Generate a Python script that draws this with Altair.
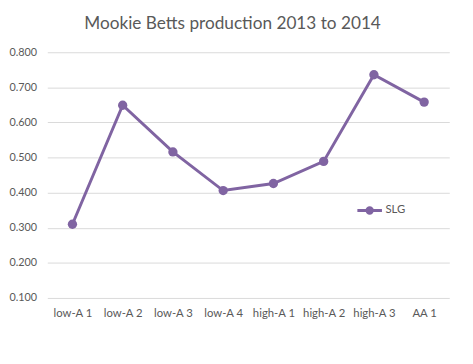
import altair as alt
import pandas as pd

categories = ["low-A 1", "low-A 2", "low-A 3", "low-A 4", "high-A 1", "high-A 2", "high-A 3", "AA 1"]
slg = [0.310, 0.649, 0.516, 0.406, 0.426, 0.489, 0.736, 0.658]
series_name = "SLG"
title_text = "Mookie Betts production 2013 to 2014"

df = pd.DataFrame({"level": categories, "value": slg, "series": [series_name] * len(categories)})

FONT = "Lato"
GRAY = "#595959"
PURPLE = "#8064A2"

sym = "M-1,0H1M-0.22,0A0.22,0.22 0 1,0 0.22,0A0.22,0.22 0 1,0 -0.22,0Z"

x = alt.X("level:N", sort=categories, title=None,
          scale=alt.Scale(paddingInner=0, paddingOuter=0.5),
          axis=alt.Axis(labelAngle=0, labelColor=GRAY, labelFont=FONT, labelFontSize=11.5,
                        domain=False, ticks=False, labelPadding=10, grid=False))
y = alt.Y("value:Q", title=None,
          scale=alt.Scale(domain=[0.1, 0.8], nice=False, zero=False),
          axis=alt.Axis(values=[0.1, 0.2, 0.3, 0.4, 0.5, 0.6, 0.7, 0.8], format=".3f",
                        labelColor=GRAY, labelFont=FONT, labelFontSize=11,
                        domain=False, ticks=False, labelPadding=11,
                        gridColor="#d9d9d9", gridWidth=1))
color = alt.Color("series:N", scale=alt.Scale(range=[PURPLE]),
                  legend=alt.Legend(title=None, orient="none", legendX=314, legendY=147,
                                    symbolType=sym, symbolSize=625, symbolStrokeWidth=3,
                                    symbolFillColor=PURPLE, symbolStrokeColor=PURPLE,
                                    labelFont=FONT, labelFontSize=11.5, labelColor=GRAY,
                                    labelOffset=2))

base = alt.Chart(df)
line = base.mark_line(strokeWidth=3).encode(x=x, y=y, color=color)
pts = base.mark_point(filled=True, size=90, opacity=1).encode(x=x, y=y, color=color)

chart = alt.layer(line, pts).properties(
    width=409, height=250,
    title=alt.TitleParams(title_text, font=FONT, fontSize=17.5, fontWeight="normal",
                          color=GRAY, anchor="middle", dx=-16, offset=14),
    autosize=alt.AutoSizeParams(type="none"),
    padding={"left": 40, "top": 42, "right": 16, "bottom": 54},
    background="white",
).configure_view(stroke=None)

chart.save("out.html", embed_options={"renderer": "svg", "actions": False})
